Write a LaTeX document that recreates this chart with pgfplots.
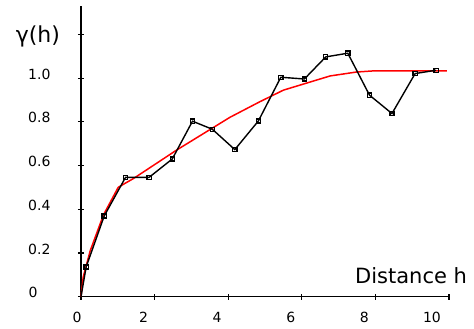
\documentclass[border=0pt]{standalone}
\usepackage{pgfplots}
\pgfplotsset{compat=1.18}
\usepackage{fontspec}
\setmainfont{DejaVu Sans}
\begin{document}
\begin{tikzpicture}
\useasboundingbox (-81pt,-32.3pt) rectangle (393pt,296.7pt);
\begin{axis}[
  scale only axis, width=368pt, height=290.7pt,
  xmin=0, xmax=10, ymin=0, ymax=1.33,
  axis lines=left, axis line style={-, line width=1.4pt},
  tick align=center, major tick length=6pt,
  tick style={line width=1.1pt, black},
  xtick={0,2,4,6,8,10},
  xticklabels={{\rule{14pt}{0pt}0},2,4,6,8,{10\rule{12pt}{0pt}}},
  ytick={0,0.2,0.4,0.6,0.8,1.0,1.2},
  yticklabels={{0\rule{13pt}{0pt}},0.2,0.4,0.6,0.8,1.0,{}},
  ticklabel style={font=\fontsize{14}{16}\selectfont},
  xticklabel style={xshift=-11pt, yshift=-9pt},
  yticklabel style={anchor=east, xshift=-24pt, yshift=4pt},
  clip=false,
]
\addplot[red, line width=1.5pt] coordinates {
(0,0) (0.06,0.09) (0.25,0.21) (0.61,0.374) (1.01,0.5) (1.2,0.519) (1.42,0.54)
(2.15,0.621) (2.6,0.671) (4.05,0.821) (4.86,0.892) (5.5,0.945) (6.77,1.01)
(7.49,1.028) (7.94,1.033) (9.94,1.033)};
\addplot[black, line width=1.4pt] coordinates {
(0,0) (0.14,0.136) (0.63,0.369) (1.21,0.546) (1.85,0.546) (2.48,0.63)
(3.03,0.803) (3.57,0.766) (4.18,0.673) (4.82,0.804) (5.43,1.004) (6.07,0.996)
(6.65,1.097) (7.25,1.114) (7.84,0.922) (8.45,0.838) (9.08,1.021) (9.65,1.036)};
\addplot[only marks, mark=square, mark size=2.1pt, mark options={black, line width=1.3pt}] coordinates {
(0.14,0.136) (0.63,0.369) (1.21,0.546) (1.85,0.546) (2.48,0.63)
(3.03,0.803) (3.57,0.766) (4.18,0.673) (4.82,0.804) (5.43,1.004) (6.07,0.996)
(6.65,1.097) (7.25,1.114) (7.84,0.922) (8.45,0.838) (9.08,1.021) (9.65,1.036)};
\node[font=\fontsize{22}{26}\selectfont] at (rel axis cs:-0.117,0.894) {γ(h)};
\node[font=\fontsize{21}{24}\selectfont] at (rel axis cs:0.897,0.074) {Distance h};
\end{axis}
\end{tikzpicture}
\end{document}
